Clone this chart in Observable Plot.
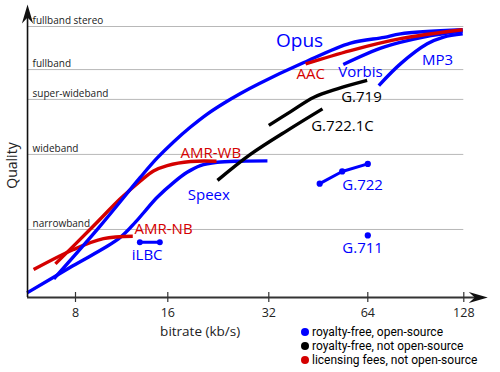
<!DOCTYPE html>
<html><head><meta charset="utf-8">
<script src="https://cdn.jsdelivr.net/npm/d3@7"></script>
<script src="https://cdn.jsdelivr.net/npm/@observablehq/plot@0.6"></script>
<style>
body{margin:0;background:#fff;font-family:"Open Sans",sans-serif;}
#wrap{position:relative;width:500px;height:372px;}
#legend{position:absolute;left:301px;top:325px;font-family:Roboto,"Open Sans",sans-serif;font-size:12px;line-height:14.2px;color:#000;}
.row{display:flex;align-items:center;white-space:nowrap;height:14.2px}
.sw{width:8px;height:8px;border-radius:50%;margin-right:3px;flex:none}
</style></head><body><div id="wrap"><div id="legend"></div></div><script>
const BLUE = "#0000ff", RED = "#d40000", BLACK = "#000000";

// axes
const bitrateTicks = [8, 16, 32, 64, 128];
const bitrateTickPx = [75, 167.3, 268.3, 367.3, 463.3];
const bandNames = ["narrowband", "wideband", "super-wideband", "fullband", "fullband stereo"];
const bandQuality = [25.1, 52.8, 73.1, 84.1, 100];
const xOrigin = 5.58, xAxisEnd = 140, xArrowTip = 152.2;
const yAxisEnd = 103.3, yArrowTip = 108.1;

// codec curves: [bitrate kb/s, quality]
const opus = [[6.8,6.9],[9.5,25.6],[13.03,44.4],[14.78,51.5],[16.67,57.5],[18.7,62.9],[20.97,67.7],[23.5,71.7],[26.35,75.3],[29.9,78.9],[40.9,86.7],[56.7,93.9],[72,96.0],[81,97.3],[127,98.8]];
const speex = [[5.56,1.7],[7.82,11.6],[11.07,21.7],[12.55,27.8],[13.53,32.1],[14.78,37.0],[16.67,42.5],[18.27,46.2],[20.0,48.7],[22.46,49.9],[26.35,50.3],[31.7,50.4]];
const amrNb = [[5.84,10.3],[7.88,17.7],[9.87,21.7],[12.3,22.6]];
const amrWb = [[6.88,12.4],[9.07,25.9],[11.22,36.5],[13.03,43.0],[14.37,46.7],[15.93,48.7],[18.7,50.2],[22.35,50.3]];
const g7221c = [[22.5,43.2],[28.2,52.8],[37.3,62.4],[46.6,69.6]];
const g719 = [[32,63.5],[37.3,68.6],[43.9,73.9],[51.7,77.0],[63.7,80.1]];
const aac = [[41.4,86.2],[56.7,91.1],[81,95.5],[127,98.8]];
const vorbis = [[53.9,86.0],[71.8,92.4],[95.7,96.1],[127,98.3]];
const mp3 = [[69.3,78.2],[81,86.2],[98.3,93.6],[110.6,96.1],[127,97.3]];
// point codecs
const ilbc = [[12.97,20.4],[15.07,20.4]];
const g722 = [[45.7,42.0],[53.5,46.5],[64,49.3]];
const g711 = [[64,22.9]];

// labels
const labelText = ["Opus","AAC","Vorbis","MP3","G.719","G.722.1C","AMR-WB","Speex","G.722","AMR-NB","iLBC","G.711"];
const labelRate = [39.7,42.9,60.8,105.9,61.2,53.6,21.5,21.2,61.7,15.5,13.7,61.7];
const labelQuality = [94.5,82.3,83.0,87.5,73.8,63.1,53.1,37.6,41.3,25.1,15.5,18.1];
const labelColor = [BLUE,RED,BLUE,BLUE,BLACK,BLACK,RED,BLUE,BLUE,RED,BLUE,BLUE];
const labelSize = [19,15,15,15,15,15,15,15,15,15,15,15];

const legendText = ["royalty-free, open-source","royalty-free, not open-source","licensing fees, not open-source"];
const legendColor = [BLUE, BLACK, RED];

const curves = [
  {name:"Speex", color:BLUE, pts:speex},
  {name:"AMR-NB", color:RED, pts:amrNb},
  {name:"AMR-WB", color:RED, pts:amrWb},
  {name:"Opus", color:BLUE, pts:opus},
  {name:"G.722.1C", color:BLACK, pts:g7221c},
  {name:"G.719", color:BLACK, pts:g719},
  {name:"MP3", color:BLUE, pts:mp3},
  {name:"Vorbis", color:BLUE, pts:vorbis},
  {name:"AAC", color:RED, pts:aac}
];
const pointCodecs = [
  {name:"iLBC", color:BLUE, pts:ilbc, r:3.6},
  {name:"G.722", color:BLUE, pts:g722, r:4},
  {name:"G.711", color:BLUE, pts:g711, r:4}
];
const flat = arr => arr.flatMap(s => s.pts.map(([rate, q]) => ({name:s.name, color:s.color, r:s.r, rate, q})));
const lineData = flat(curves);
const pointData = flat(pointCodecs);
const labels = labelText.map((t, i) => ({t, rate:labelRate[i], q:labelQuality[i], color:labelColor[i], size:labelSize[i]}));

const arrowHead = {draw(ctx){ ctx.moveTo(0,0); ctx.lineTo(-19,-5.6); ctx.lineTo(-13,0); ctx.lineTo(-19,5.6); ctx.closePath(); }};

const chart = Plot.plot({
  width: 500, height: 372,
  marginLeft: 27, marginRight: 37, marginTop: 26, marginBottom: 75,
  style: {fontFamily: "'Open Sans', sans-serif", background: "white", overflow: "visible"},
  x: {type: "log", domain: bitrateTicks, range: bitrateTickPx, axis: null},
  y: {domain: [0, 100], range: [297, 26], axis: null},
  color: {type: "identity"},
  marks: [
    Plot.ruleY(bandQuality, {x1: xOrigin, x2: 128, stroke: "#b8b8b8", strokeWidth: 1}),
    Plot.text(bandNames, {x: xOrigin, y: (d, i) => bandQuality[i], dx: 5, dy: -5.5, textAnchor: "start", fontSize: 10, fill: "#222"}),
    Plot.line(lineData, {x: "rate", y: "q", z: "name", stroke: "color", strokeWidth: 3.4, curve: "catmull-rom", strokeLinecap: "butt"}),
    Plot.line(pointData, {x: "rate", y: "q", z: "name", stroke: "color", strokeWidth: 3}),
    Plot.dot(pointData, {x: "rate", y: "q", r: "r", fill: "color", stroke: null}),
    Plot.ruleY([0], {x1: xOrigin, x2: xAxisEnd, stroke: "#333", strokeWidth: 2}),
    Plot.ruleX([xOrigin], {y1: 0, y2: yAxisEnd, stroke: "#111", strokeWidth: 1.6}),
    Plot.dot([0], {x: xArrowTip, y: 0, symbol: arrowHead, fill: "#111", stroke: null}),
    Plot.dot([0], {x: xOrigin, y: yArrowTip, symbol: arrowHead, rotate: -90, fill: "#111", stroke: null}),
    Plot.ruleX(bitrateTicks, {x: d => d, y1: -1.85, y2: 1.85, stroke: "#333", strokeWidth: 1.2}),
    Plot.text(bitrateTicks, {x: d => d, y: 0, dy: 15, text: d => String(d), fontSize: 12.5, fill: "#222"}),
    Plot.text(["bitrate (kb/s)"], {x: 19.98, y: 0, dy: 34.5, fontSize: 13.5, fill: "#222"}),
    Plot.text(["Quality"], {x: xOrigin, y: 48.7, dx: -15, rotate: -90, textAnchor: "middle", fontSize: 14, fill: "#222"}),
    Plot.text(labels, {x: "rate", y: "q", text: "t", fill: "color", fontSize: d => d.size})
  ]
});
const wrap = document.getElementById("wrap");
wrap.insertBefore(chart, wrap.firstChild);
const legend = document.getElementById("legend");
legendText.forEach((t, i) => {
  const row = document.createElement("div"); row.className = "row";
  const sw = document.createElement("span"); sw.className = "sw"; sw.style.background = legendColor[i];
  const tx = document.createElement("span"); tx.textContent = t;
  row.appendChild(sw); row.appendChild(tx); legend.appendChild(row);
});
</script></body></html>
